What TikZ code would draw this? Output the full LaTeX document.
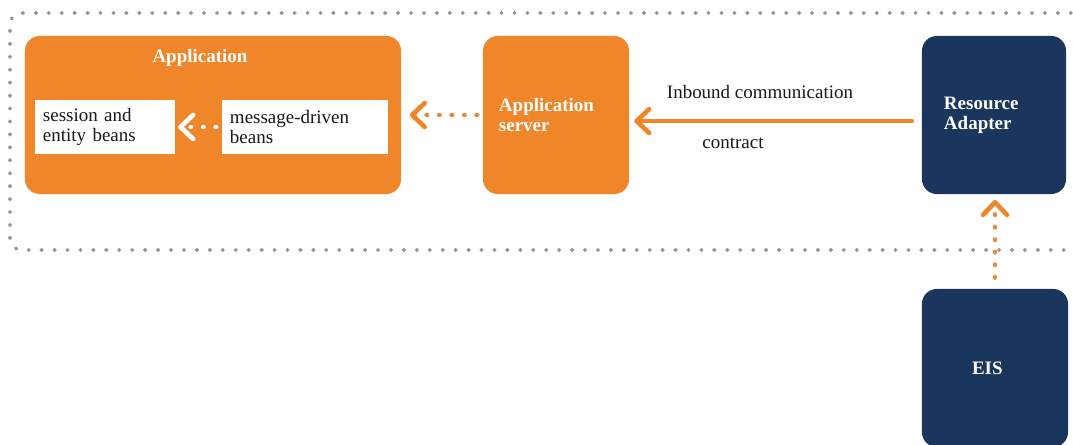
\documentclass[tikz,border=0pt]{standalone}
\usepackage{fontspec}
\setmainfont{Liberation Serif}
\usetikzlibrary{arrows.meta}
\definecolor{jorange}{RGB}{240,134,42}
\definecolor{jnavy}{RGB}{27,54,93}
\definecolor{jgray}{RGB}{150,150,150}

\begin{document}
\begin{tikzpicture}[x=0.025cm,y=-0.025cm,>={Straight Barb[round,length=9pt,width=17pt]},
  font=\fontsize{13.5}{14}\selectfont,
  block/.style={fill=#1,rounded corners=10.5pt,minimum height=3.95cm,inner sep=0pt},
  bean/.style={fill=white,minimum height=1.35cm,inner xsep=0.2cm,inner ysep=0pt,align=left,text=black!90},
  lbl/.style={text=white,font=\fontsize{13.5}{14}\selectfont\bfseries,align=left},
  note/.style={text=black!90,anchor=base},
  dots/.style={line width=3.3pt,line cap=round,dash pattern=on 0.3pt off 8.6pt}]
  \useasboundingbox (0,0) rectangle (1073,445);
  % dotted frame round the container
  \draw[jgray,line width=2.8pt,line cap=round,dash pattern=on 0.3pt off 8.9pt,rounded corners=8pt]
    (1071,13) -- (10,13) -- (10,250) -- (1073,250);
  % boxes
  \node[block=jorange,minimum width=9.4cm] (app) at (213,115) {};
  \node[lbl] (apptitle) at (200,58) {Application};
  \node[bean,text width=3.1cm] (sess) at (105,127) {session and\\entity beans};
  \node[bean,text width=3.75cm] (mdb) at (305,127) {message-driven\\beans};
  \node[block=jorange,lbl,text width=2.85cm,inner xsep=0.4cm] (srv) at (556,115) {Application\\server};
  \node[block=jnavy,lbl,text width=2.5cm,inner xsep=0.55cm] (ra) at (994,115) {Resource\\Adapter};
  \node[block=jnavy,lbl,text width=1.15cm,inner xsep=1.25cm] (eis) at (995,368) {EIS};
  % labels of the contract
  \node[note] (inbound) at (760,99) {Inbound communication};
  \node[note] (contract) at (733,149) {contract};
  % connectors
  \draw[->,dots,white,shorten <=4pt,shorten >=2pt] (mdb) -- (sess);
  \draw[->,dots,jorange,shorten <=4pt,shorten >=6pt] (srv) -- (app);
  \draw[->,jorange,line width=3.3pt,line cap=round,shorten <=7pt,shorten >=3.5pt]
    ([yshift=-4.3pt]ra.west) -- ([yshift=-4.3pt]srv.east);
  \draw[->,dots,jorange,shorten <=8pt,shorten >=4pt] (eis.north) -- (ra.south -| eis.north);
\end{tikzpicture}
\end{document}
